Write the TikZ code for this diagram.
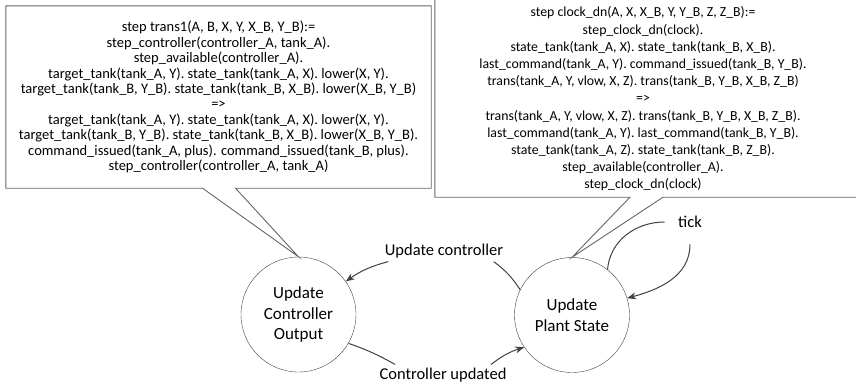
\documentclass[tikz,border=0pt]{standalone}
\usepackage{fontspec}
\setmainfont{Carlito}
\usepackage{tikz}
\usetikzlibrary{arrows.meta}

\definecolor{linegray}{gray}{0.25}
\definecolor{boxgray}{gray}{0.4}

\begin{document}
\begin{tikzpicture}[x=1pt,y=1pt]
\useasboundingbox (0,0) rectangle (856,-386);

\begin{scope}[every node/.style={circle,draw=linegray,thin,minimum size=115pt,inner sep=0pt,align=center,font=\fontsize{17}{20.5}\selectfont}]
    \node (ctrl) at (298.5,-314.5) {Update\\Controller\\Output};
    \node (plant) at (572,-315) {Update\\Plant State};
\end{scope}

\begin{scope}[every node/.style={font=\fontsize{16.5}{19}\selectfont}]
    \node (upd) at (444,-251) {Update controller};
    \node (done) at (443,-375) {Controller updated};
    \node (tick) at (690,-222) {tick};
\end{scope}

\begin{scope}[every node/.style={align=center,font=\fontsize{14.5}{15.4}\selectfont}]
    \node[minimum width=425pt,minimum height=182pt] (ctrlrule) at (218.5,-97) {%
    step trans1(A, B, X, Y, X\_B, Y\_B):=\\
    step\_controller(controller\_A, tank\_A).\\
    step\_available(controller\_A).\\
    target\_tank(tank\_A, Y). state\_tank(tank\_A, X). lower(X, Y).\\
    target\_tank(tank\_B, Y\_B). state\_tank(tank\_B, X\_B). lower(X\_B, Y\_B)\\
    =>\\
    target\_tank(tank\_A, Y). state\_tank(tank\_A, X). lower(X, Y).\\
    target\_tank(tank\_B, Y\_B). state\_tank(tank\_B, X\_B). lower(X\_B, Y\_B).\\
    command\_issued(tank\_A, plus). command\_issued(tank\_B, plus).\\
    step\_controller(controller\_A, tank\_A)};
    \node[minimum width=416pt,minimum height=196pt,font=\fontsize{13.8}{17.2}\selectfont] (plantrule) at (643,-99) {%
    step clock\_dn(A, X, X\_B, Y, Y\_B, Z, Z\_B):=\\
    step\_clock\_dn(clock).\\
    state\_tank(tank\_A, X). state\_tank(tank\_B, X\_B).\\
    last\_command(tank\_A, Y). command\_issued(tank\_B, Y\_B).\\
    trans(tank\_A, Y, vlow, X, Z). trans(tank\_B, Y\_B, X\_B, Z\_B)\\
    =>\\
    trans(tank\_A, Y, vlow, X, Z). trans(tank\_B, Y\_B, X\_B, Z\_B).\\
    last\_command(tank\_A, Y). last\_command(tank\_B, Y\_B).\\
    state\_tank(tank\_A, Z). state\_tank(tank\_B, Z\_B).\\
    step\_available(controller\_A).\\
    step\_clock\_dn(clock)};
\end{scope}

% callout outlines
\draw[boxgray,line width=0.9pt] (ctrlrule.south west) -- (ctrlrule.north west) -- (ctrlrule.north east)
    -- (ctrlrule.south east) -- ([xshift=17pt]ctrlrule.south) -- (ctrl.north)
    -- ([xshift=-16pt]ctrlrule.south) -- cycle;
\draw[boxgray,line width=0.9pt] ([yshift=10pt]plantrule.north west) -- (plantrule.south west)
    -- ([xshift=-13pt]plantrule.south) -- (plant.north) -- ([xshift=20pt]plantrule.south)
    -- ([xshift=20pt]plantrule.south east);

\begin{scope}[>={Stealth[length=9pt,width=7pt]},
              every edge/.style={draw=linegray,line width=1pt}]
    \path (plant.154) edge[bend right=10] ([xshift=-13pt]upd.south east);
    \path [->] ([xshift=7pt]upd.south west) edge[bend right=10] (ctrl.35);
    \path (ctrl.-30) edge[bend left=5] ([xshift=19pt]done.north west);
    \path [->] ([xshift=-19pt]done.north east) edge[bend left=10] (plant.-146);
    \path (plant.52) edge[out=85,in=180] ([xshift=-10pt]tick.west);
    \path [->] ([yshift=-13pt]tick.south) edge[out=-90,in=15] (plant.17);
\end{scope}
\end{tikzpicture}
\end{document}
